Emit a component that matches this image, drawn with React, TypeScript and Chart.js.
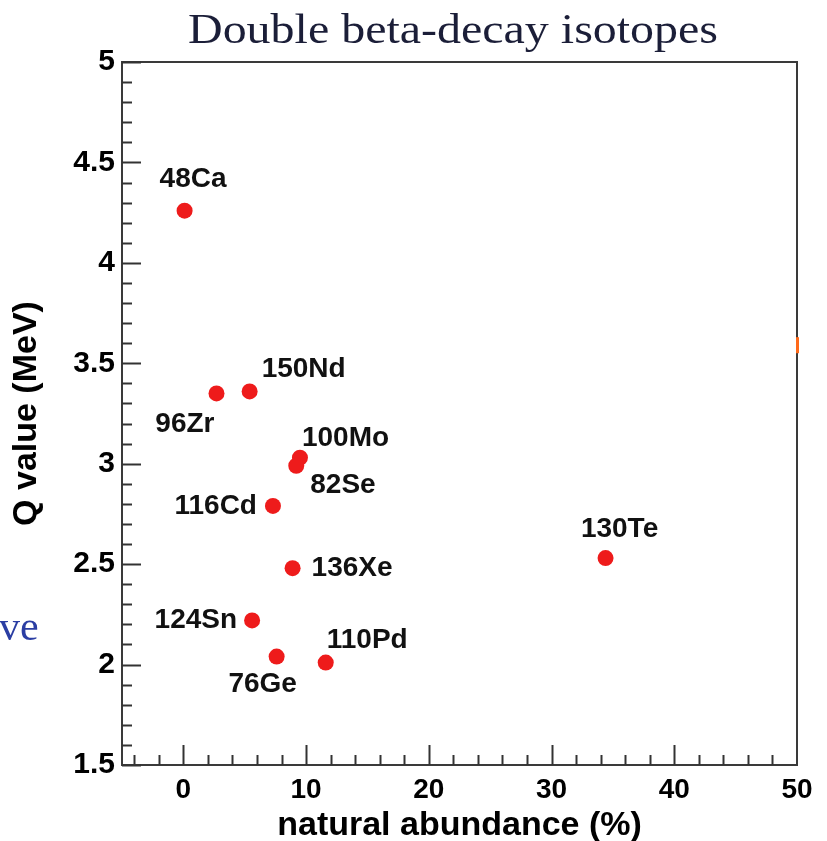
import React, { useEffect, useRef } from "react";
import { Chart, registerables } from "chart.js";

Chart.register(...registerables);

// ---- data ----
const isotopes = ["48Ca", "96Zr", "150Nd", "100Mo", "82Se", "116Cd", "136Xe", "124Sn", "76Ge", "110Pd", "130Te"];
const abundance = [0.1, 2.7, 5.4, 9.5, 9.2, 7.3, 8.9, 5.6, 7.6, 11.6, 34.4];
const qValue = [4.26, 3.35, 3.36, 3.03, 2.99, 2.79, 2.48, 2.22, 2.04, 2.01, 2.53];

const xTickValues = [0, 10, 20, 30, 40, 50];
const yTickValues = [1.5, 2, 2.5, 3, 3.5, 4, 4.5, 5];

const chartTitle = "Double beta-decay isotopes";
const xTitle = "natural abundance (%)";
const yTitle = "Q value (MeV)";

// label placement (pixel offsets from the point, alignment)
const labelPlacement: Record<string, [number, number, CanvasTextAlign]> = {
  "48Ca": [-25, -31, "left"],
  "96Zr": [-2, 31, "right"],
  "150Nd": [12, -22, "left"],
  "100Mo": [2, -19, "left"],
  "82Se": [14, 20, "left"],
  "116Cd": [-16, 0, "right"],
  "136Xe": [19, 0, "left"],
  "124Sn": [-15, 0, "right"],
  "76Ge": [-14, 28, "center"],
  "110Pd": [1, -22, "left"],
  "130Te": [14, -29, "center"],
};

const SANS = "'Liberation Sans', Arial, Helvetica, sans-serif";
const SERIF = "'Liberation Serif', 'Times New Roman', serif";

const decorPlugin = {
  id: "decor",
  afterDatasetsDraw(chart: any) {
    const { ctx, chartArea } = chart;
    const xs = chart.scales.x;
    const ys = chart.scales.y;
    ctx.save();
    // frame
    ctx.strokeStyle = "#3a3a3a";
    ctx.lineWidth = 2;
    ctx.strokeRect(chartArea.left, chartArea.top, chartArea.right - chartArea.left, chartArea.bottom - chartArea.top);
    // inward ticks, y
    ctx.strokeStyle = "#333";
    ctx.lineWidth = 2;
    for (let i = 0; i <= 35; i++) {
      const v = 1.5 + i * 0.1;
      const major = i % 5 === 0;
      const py = Math.round(ys.getPixelForValue(v)) + 0.5;
      ctx.beginPath();
      ctx.moveTo(chartArea.left, py);
      ctx.lineTo(chartArea.left + (major ? 19 : 10), py);
      ctx.stroke();
    }
    // inward ticks, x
    for (let i = -2; i <= 25; i++) {
      const v = i * 2;
      if (v <= -5 || v >= 50) continue;
      const major = v % 10 === 0;
      const px = Math.round(xs.getPixelForValue(v)) + 0.5;
      ctx.beginPath();
      ctx.moveTo(px, chartArea.bottom);
      ctx.lineTo(px, chartArea.bottom - (major ? 20 : 10));
      ctx.stroke();
    }
    // point labels
    ctx.fillStyle = "#111";
    ctx.font = `bold 28px ${SANS}`;
    ctx.textBaseline = "middle";
    isotopes.forEach((name, i) => {
      const [dx, dy, align] = labelPlacement[name];
      const px = xs.getPixelForValue(abundance[i]);
      const py = ys.getPixelForValue(qValue[i]);
      ctx.textAlign = align;
      ctx.fillText(name, px + dx, py + dy);
    });
    // small orange mark on right border
    ctx.fillStyle = "#ff6a1a";
    const y1 = ys.getPixelForValue(3.63);
    const y2 = ys.getPixelForValue(3.55);
    ctx.fillRect(chartArea.right - 1, y1, 3, y2 - y1);
    // title
    ctx.fillStyle = "#1b1e38";
    ctx.font = `43px ${SERIF}`;
    ctx.textAlign = "left";
    ctx.textBaseline = "alphabetic";
    const w = ctx.measureText(chartTitle).width;
    const target = 530;
    ctx.save();
    ctx.translate(188, 43);
    ctx.scale(target / w, 1);
    ctx.fillText(chartTitle, 0, 0);
    ctx.restore();
    // slide text fragment at left
    ctx.fillStyle = "#2b3ea3";
    ctx.font = `42px ${SERIF}`;
    ctx.fillText("ve", -1, 640);
    ctx.restore();
  },
};

export default function App() {
  const ref = useRef<HTMLCanvasElement | null>(null);
  useEffect(() => {
    if (!ref.current) return;
    const chart = new Chart(ref.current, {
      type: "scatter",
      data: {
        datasets: [
          {
            data: abundance.map((x, i) => ({ x, y: qValue[i] })),
            backgroundColor: "#ee1b1b",
            borderColor: "#ee1b1b",
            pointRadius: 8,
            pointBorderWidth: 0,
          },
        ],
      },
      options: {
        animation: false,
        responsive: false,
        maintainAspectRatio: false,
        layout: { padding: { top: 62, right: 30, left: 0, bottom: 0 } },
        plugins: {
          legend: { display: false },
          tooltip: { enabled: false },
          title: { display: false },
        },
        scales: {
          x: {
            type: "linear",
            min: -5,
            max: 50,
            afterFit: (s: any) => {
              s.height = 76;
            },
            afterBuildTicks: (s: any) => {
              s.ticks = xTickValues.map((v) => ({ value: v }));
            },
            grid: { display: false, drawTicks: false },
            border: { display: false },
            ticks: {
              padding: 8,
              color: "#000",
              maxRotation: 0,
              autoSkip: false,
              font: { family: SANS, size: 28, weight: "bold" },
              callback: (v: any) => String(v),
            },
            title: {
              display: true,
              text: xTitle,
              color: "#000",
              font: { family: SANS, size: 34, weight: "bold", lineHeight: 0.88 },
              padding: { top: 0, bottom: 0 },
            },
          },
          y: {
            type: "linear",
            min: 1.5,
            max: 5,
            afterFit: (s: any) => {
              s.width = 122;
            },
            afterBuildTicks: (s: any) => {
              s.ticks = yTickValues.map((v) => ({ value: v }));
            },
            grid: { display: false, drawTicks: false },
            border: { display: false },
            ticks: {
              padding: 7,
              color: "#000",
              autoSkip: false,
              font: { family: SANS, size: 30, weight: "bold" },
              callback: (v: any) => String(v),
            },
            title: {
              display: true,
              text: yTitle,
              color: "#000",
              font: { family: SANS, size: 34, weight: "bold", lineHeight: 1 },
              padding: { top: 10, bottom: 0 },
            },
          },
        },
      },
      plugins: [decorPlugin],
    });
    return () => chart.destroy();
  }, []);
  return (
    <div style={{ position: "absolute", left: 0, top: 0, width: 827, height: 841, background: "#fff" }}>
      <canvas ref={ref} width={827} height={841} style={{ display: "block", width: 827, height: 841 }} />
    </div>
  );
}
